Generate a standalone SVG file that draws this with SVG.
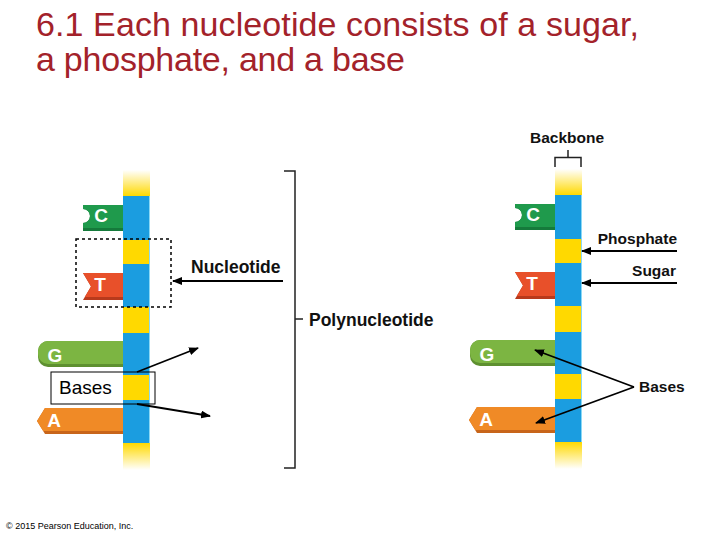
<svg xmlns="http://www.w3.org/2000/svg" xmlns:xlink="http://www.w3.org/1999/xlink" width="720" height="540" viewBox="0 0 720 540">
<style>
.title{font-family:"Liberation Sans",Arial,sans-serif;font-size:34px;fill:#A3222A}
.lblL{font-family:"Liberation Sans",Arial,sans-serif;font-weight:bold;font-size:17.5px;fill:#111}
.lblR{font-family:"Liberation Sans",Arial,sans-serif;font-weight:bold;font-size:15.5px;fill:#111}
.base{font-family:"Liberation Sans",Arial,sans-serif;font-weight:bold;font-size:19px;fill:#fff;text-anchor:middle}
.plain{font-family:"Liberation Sans",Arial,sans-serif;font-size:19px;fill:#000}
.copy{font-family:"Liberation Sans",Arial,sans-serif;font-size:9px;fill:#000}
.blue{fill:#1B9DE0}
.yel{fill:#FFD900}
.conn{stroke:#000;stroke-width:1.8;fill:none}
.brk{stroke:#222;stroke-width:1.5;fill:none}
</style>
<defs>
<linearGradient id="fadeTop" x1="0" y1="0" x2="0" y2="1">
<stop offset="0" stop-color="#FFD900" stop-opacity="0"/>
<stop offset="1" stop-color="#FFD900"/>
</linearGradient>
<linearGradient id="fadeBot" x1="0" y1="0" x2="0" y2="1">
<stop offset="0" stop-color="#FFD900"/>
<stop offset="1" stop-color="#FFD900" stop-opacity="0"/>
</linearGradient>
<marker id="ah" viewBox="0 0 10 8" refX="9" refY="4" markerWidth="10" markerHeight="8" markerUnits="userSpaceOnUse" orient="auto">
<path d="M0,0 L10,4 L0,8 Z" fill="#000"/>
</marker>
<g id="strand">
<path d="M125,205 H83 V209 A7,7 0 0 1 83,223 V231 H125 Z" fill="#157A3B"/>
<path d="M125,205 H83 V209 A7,7 0 0 1 83,223 V228 H125 Z" fill="#1F9A4C"/>
<text class="base" x="101" y="222">C</text>
<path d="M125,273 H83 L91,286.5 L83,300 H125 Z" fill="#B83A1C"/>
<path d="M125,273 H83 L91,286.5 L84.8,297 H125 Z" fill="#E8502A"/>
<text class="base" x="100" y="291">T</text>
<rect x="38" y="341" width="95" height="26" rx="10" fill="#5E9030"/>
<rect x="38" y="341" width="95" height="23" rx="10" fill="#7CB542"/>
<text class="base" x="55" y="362">G</text>
<path d="M125,408 H45 L37,421 L45,434 H125 Z" fill="#C8651A"/>
<path d="M125,408 H45 L37,421 L43.2,431 H125 Z" fill="#F08A26"/>
<text class="base" x="54" y="427">A</text>
<rect x="123" y="170" width="27" height="26" fill="url(#fadeTop)"/>
<rect class="blue" x="123" y="196" width="27" height="44"/>
<rect class="yel" x="123" y="240" width="27" height="24"/>
<rect class="blue" x="123" y="264" width="27" height="43"/>
<rect class="yel" x="123" y="307" width="27" height="26"/>
<rect class="blue" x="123" y="333" width="27" height="42"/>
<rect class="yel" x="123" y="375" width="27" height="25"/>
<rect class="blue" x="123" y="400" width="27" height="43"/>
<rect x="123" y="443" width="27" height="27" fill="url(#fadeBot)"/>
<line x1="149.5" y1="196" x2="149.5" y2="443" stroke="#8AD8F5" stroke-width="1"/>
</g>
</defs>

<g id="title">
<text class="title" x="36" y="36" textLength="603">6.1 Each nucleotide consists of a sugar,</text>
<text class="title" x="36" y="71" textLength="369">a phosphate, and a base</text>
</g>

<g id="left-strand"><use href="#strand" xlink:href="#strand"/></g>
<g id="right-strand"><use href="#strand" xlink:href="#strand" transform="translate(432,-1)"/></g>

<g id="nucleotide-box">
<rect x="76" y="239" width="95" height="68" fill="none" stroke="#000" stroke-width="1.5" stroke-dasharray="3,3"/>
</g>

<g id="bases-box">
<rect x="51" y="372" width="104" height="32" fill="none" stroke="#000" stroke-width="1"/>
<text class="plain" x="59" y="394">Bases</text>
</g>

<g id="labels">
<text class="lblL" x="191" y="273">Nucleotide</text>
<text class="lblL" x="309" y="326">Polynucleotide</text>
<text class="lblR" x="567" y="143" text-anchor="middle">Backbone</text>
<text class="lblR" x="677" y="244" text-anchor="end">Phosphate</text>
<text class="lblR" x="676" y="276" text-anchor="end">Sugar</text>
<text class="lblR" x="639" y="392">Bases</text>
</g>

<g id="connectors">
<line class="conn" x1="283" y1="281" x2="173" y2="281" marker-end="url(#ah)"/>
<line class="conn" x1="137" y1="372" x2="198" y2="348" marker-end="url(#ah)"/>
<line class="conn" x1="137" y1="404" x2="210" y2="416" marker-end="url(#ah)"/>
<line class="conn" x1="677" y1="251" x2="582" y2="251" marker-end="url(#ah)"/>
<line class="conn" x1="677" y1="283" x2="582" y2="283" marker-end="url(#ah)"/>
<line class="conn" x1="634" y1="387" x2="535" y2="350" marker-end="url(#ah)"/>
<line class="conn" x1="634" y1="387" x2="536" y2="423" marker-end="url(#ah)"/>
<path class="brk" d="M284,171 H295 V468 H284 M295,319 H303"/>
<path class="brk" d="M555,167 V157.5 H581 V167 M568,157.5 V150"/>
</g>

<text class="copy" x="6" y="529">© 2015 Pearson Education, Inc.</text>
</svg>
